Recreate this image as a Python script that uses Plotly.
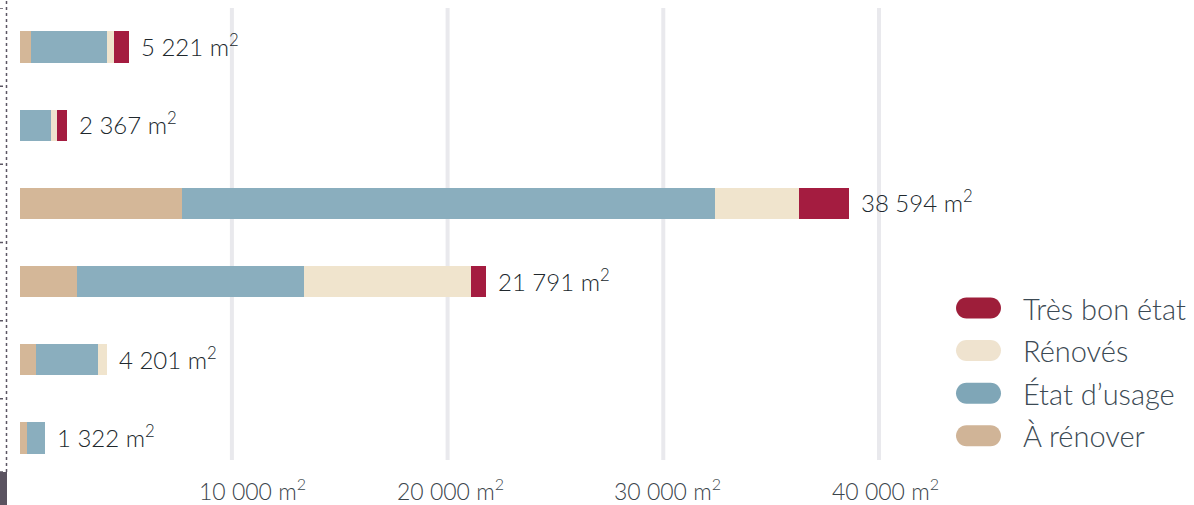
import plotly.graph_objects as go

# ---------------- data ----------------
categories = ["Site 1", "Site 2", "Site 3", "Site 4", "Site 5", "Site 6"]
a_renover = [690, 0, 7670, 2820, 920, 500]
etat_usage = [3510, 1613, 24740, 10520, 2890, 822]
renoves = [350, 279, 3870, 7740, 391, 0]
tres_bon_etat = [671, 475, 2314, 711, 0, 0]
totals = [5221, 2367, 38594, 21791, 4201, 1322]
tick_values = [10000, 20000, 30000, 40000]
series_names = ["À rénover", "État d’usage", "Rénovés", "Très bon état"]

# ---------------- styles ----------------
bar_colors = ["#d4b798", "#8aaebe", "#f0e4cd", "#a41c40"]
legend_colors = ["#d0b497", "#7fa6b7", "#efe3cf", "#9e1e3a"]
FONT = "Lato"
WEIGHT = 300

FIG_W, FIG_H = 1194, 505
L, T, W, H = 20, 8, 920, 469           # plot area in pixels
ZERO_PX, PX_PER_UNIT = 16.2, 0.02157    # x scale


def px(x):
    return (x - L) / W


def py(y):
    return (T + H - y) / H


fig = go.Figure()
for name, vals, col in zip(series_names,
                           [a_renover, etat_usage, renoves, tres_bon_etat],
                           bar_colors):
    fig.add_trace(go.Bar(
        y=categories, x=vals, name=name, orientation="h",
        marker=dict(color=col, line=dict(width=0)),
        width=0.4, showlegend=False,
    ))

x_min = (L - ZERO_PX) / PX_PER_UNIT
x_max = (L + W - ZERO_PX) / PX_PER_UNIT

shapes = []
# vertical gridlines
for tv in tick_values:
    shapes.append(dict(type="line", xref="x", yref="paper", x0=tv, x1=tv,
                       y0=py(460), y1=py(8), line=dict(color="#e9e9ed", width=4),
                       layer="below"))
# dotted left axis line
shapes.append(dict(type="line", xref="paper", yref="paper", x0=px(6.5), x1=px(6.5),
                   y0=py(472), y1=py(0), line=dict(color="#5b5663", width=1.5, dash="dot")))
# ticks at category boundaries
for i in range(len(categories)):
    shapes.append(dict(type="line", xref="paper", yref="y", x0=px(0), x1=px(7),
                       y0=i - 0.5, y1=i - 0.5,
                       line=dict(color="#5b5663", width=1.5, dash="dot")))
shapes.append(dict(type="line", xref="paper", yref="paper", x0=px(0), x1=px(7),
                   y0=py(472), y1=py(472), line=dict(color="#5b5663", width=1.5, dash="dot")))
# dark block bottom-left
shapes.append(dict(type="rect", xref="paper", yref="paper", x0=px(0), x1=px(7),
                   y0=py(505), y1=py(472), fillcolor="#5a5360", line=dict(width=0)))

# legend pills
pill = ("M -12,-10.5 L 12,-10.5 C 17.8,-10.5 22.5,-5.8 22.5,0 "
        "C 22.5,5.8 17.8,10.5 12,10.5 L -12,10.5 "
        "C -17.8,10.5 -22.5,5.8 -22.5,0 C -22.5,-5.8 -17.8,-10.5 -12,-10.5 Z")
annotations = []
legend_top, legend_step = 308, 42.6
for k, idx in enumerate([3, 2, 1, 0]):
    cy = legend_top + k * legend_step
    shapes.append(dict(type="path", xref="paper", yref="paper",
                       xsizemode="pixel", ysizemode="pixel",
                       xanchor=px(978.5), yanchor=py(cy), path=pill,
                       fillcolor=legend_colors[idx], line=dict(width=0)))
    annotations.append(dict(xref="paper", yref="paper", x=px(1021), y=py(cy),
                            xanchor="left", yanchor="middle", showarrow=False,
                            text=series_names[idx],
                            font=dict(family=FONT, size=29, weight=WEIGHT,
                                      color="#3c4a54")))

# totals
for cat, tot in zip(categories, totals):
    annotations.append(dict(xref="x", yref="y", x=tot, y=cat, xanchor="left",
                            yanchor="middle", xshift=10, yshift=2, showarrow=False,
                            text=f"{tot:,}".replace(",", " ") + " m<sup>2</sup>",
                            font=dict(family=FONT, size=24, weight=WEIGHT,
                                      color="#20282d")))

# x tick labels
tick_shifts = [21, 3, 4, 6]
for tv, sh in zip(tick_values, tick_shifts):
    annotations.append(dict(xref="x", yref="paper", x=tv, y=py(490), xanchor="center",
                            yanchor="middle", xshift=sh, showarrow=False,
                            text=f"{tv:,}".replace(",", " ") + " m<sup>2</sup>",
                            font=dict(family=FONT, size=23, weight=WEIGHT,
                                      color="#3a444b")))

fig.update_layout(
    width=FIG_W, height=FIG_H,
    margin=dict(l=L, r=FIG_W - L - W, t=T, b=FIG_H - T - H),
    barmode="stack",
    paper_bgcolor="white", plot_bgcolor="white",
    xaxis=dict(range=[x_min, x_max], showgrid=False, zeroline=False,
               showticklabels=False, ticks=""),
    yaxis=dict(categoryorder="array", categoryarray=categories,
               range=[len(categories) - 0.5, -0.5], showgrid=False,
               zeroline=False, showticklabels=False, ticks=""),
    shapes=shapes, annotations=annotations,
    font=dict(family=FONT),
)

fig.write_html("out.html")
